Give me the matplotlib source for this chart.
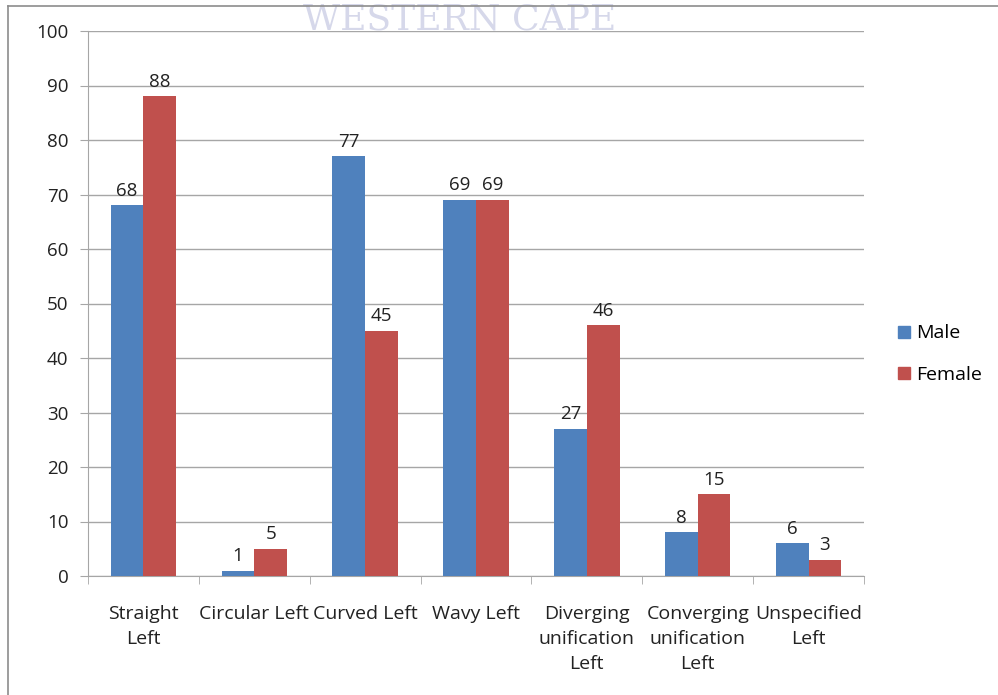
import matplotlib

matplotlib.use("Agg")
import matplotlib.pyplot as plt
from matplotlib.lines import Line2D
import numpy as np

categories = ["Straight\nLeft", "Circular Left", "Curved Left", "Wavy Left",
              "Diverging\nunification\nLeft", "Converging\nunification\nLeft",
              "Unspecified\nLeft"]
male = [68, 1, 77, 69, 27, 8, 6]
female = [88, 5, 45, 69, 46, 15, 3]
yticks = [0, 10, 20, 30, 40, 50, 60, 70, 80, 90, 100]

BLUE, RED = "#4F81BD", "#C0504D"
GRID = "#a6a6a6"
TXT = "#222222"

plt.rcParams.update({
    "font.family": ["Open Sans", "DejaVu Sans"],
    "font.size": 14,
})

W, H = 998, 695
fig = plt.figure(figsize=(W / 100, H / 100), dpi=100)
ax = fig.add_axes([88 / W, 1 - 576 / H, (864 - 88) / W, (576 - 31) / H])

x = np.arange(len(categories))
bw = 0.295
bm = ax.bar(x - bw / 2, male, bw, color=BLUE, label="Male", zorder=3)
bf = ax.bar(x + bw / 2, female, bw, color=RED, label="Female", zorder=3)
for bars in (bm, bf):
    for b in bars:
        ax.annotate(f"{int(b.get_height())}",
                    xy=(b.get_x() + b.get_width() / 2, b.get_height()),
                    xytext=(0, 4), textcoords="offset points",
                    ha="center", va="bottom", fontsize=13.5, color=TXT)

ax.set_xlim(-0.5, len(categories) - 0.5)
ax.set_ylim(0, 100)
ax.set_yticks(yticks)
ax.set_yticklabels([str(v) for v in yticks], fontsize=13.5, color=TXT)
ax.yaxis.grid(True, color=GRID, linewidth=1.0, zorder=0)
ax.tick_params(axis="y", length=6, color=GRID, pad=8)

# category labels centred, ticks at category boundaries
ax.set_xticks(x)
ax.set_xticklabels(categories, fontsize=14, color=TXT, linespacing=1.5)
ax.tick_params(axis="x", length=0, pad=21)
ax.set_xticks(np.arange(len(categories) + 1) - 0.5, minor=True)
ax.tick_params(axis="x", which="minor", length=6, color=GRID)

for s in ("top", "right"):
    ax.spines[s].set_visible(False)
for s in ("left", "bottom"):
    ax.spines[s].set_color(GRID)

handles = [Line2D([], [], marker="s", linestyle="none", markersize=8,
                  color=BLUE, label="Male"),
           Line2D([], [], marker="s", linestyle="none", markersize=8,
                  color=RED, label="Female")]
fig.legend(handles=handles, loc="center left",
           bbox_to_anchor=(877 / W, 1 - 354 / H), frameon=False,
           fontsize=14, handletextpad=0.1, labelspacing=1.2,
           handlelength=1.0)

# watermark and page border
fig.text(460 / W, 1 - 20 / H, "WESTERN CAPE", family="DejaVu Serif",
         fontsize=26, color="#d6d8ea", ha="center", va="center",
         zorder=0)
fig.add_artist(Line2D([8 / W, 8 / W], [0, 1 - 6 / H], color="#8c8c8c",
                      linewidth=1.2, transform=fig.transFigure))
fig.add_artist(Line2D([8 / W, 1], [1 - 6 / H, 1 - 6 / H], color="#8c8c8c",
                      linewidth=1.2, transform=fig.transFigure))

fig.savefig("out.png", dpi=100)
